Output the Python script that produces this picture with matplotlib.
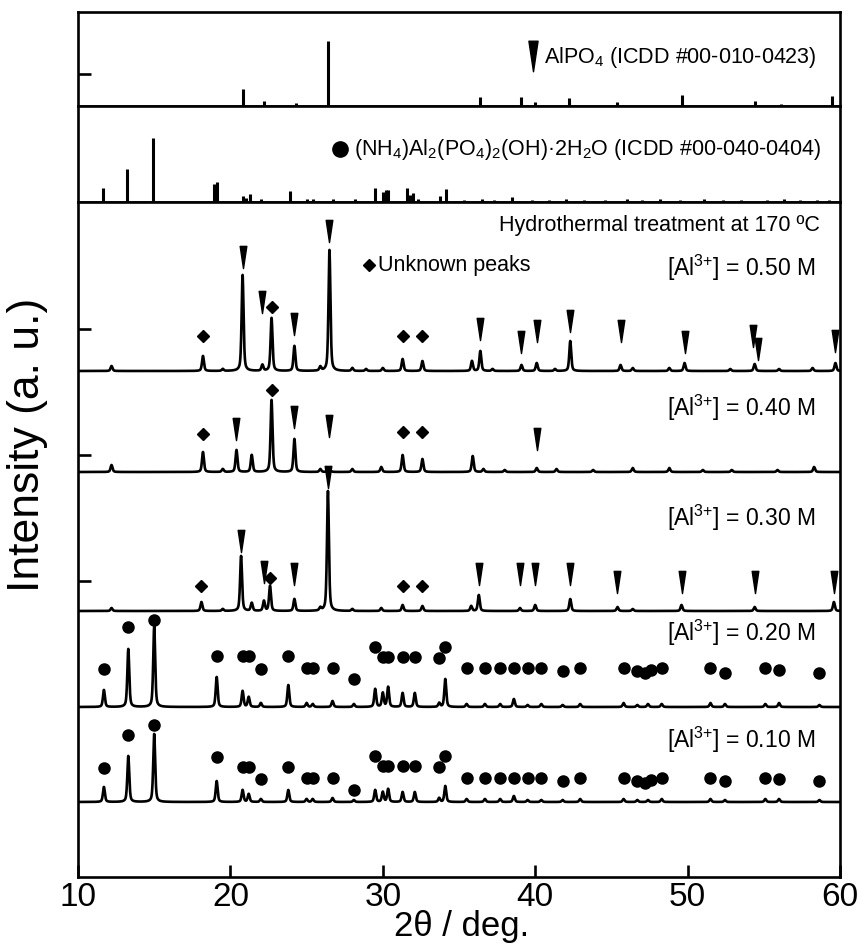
import numpy as np
import matplotlib.pyplot as plt
from matplotlib.path import Path

plt.rcParams['font.family'] = ['Liberation Sans', 'DejaVu Sans']
plt.rcParams['mathtext.fontset'] = 'custom'
plt.rcParams['mathtext.rm'] = 'Liberation Sans'
plt.rcParams['mathtext.default'] = 'regular'

# --- reference patterns (stick positions / relative intensity) ---
alpo4_pos = [20.8, 22.2, 24.3, 26.4, 36.4, 39.1, 40.0, 42.2, 45.4, 49.6, 54.4, 56.1, 59.5]
alpo4_int = [26, 8, 5, 100, 14, 14, 6, 12, 6, 17, 8, 3, 15]

nh4_pos = [11.64, 13.2, 14.9, 18.9, 19.1, 20.8, 21.0, 21.3, 22.0, 23.9, 25.0, 25.4,
           26.7, 28.2, 29.5, 30.0, 30.2, 30.35, 31.6, 31.8, 32.0, 32.3, 33.75, 34.15,
           35.3, 36.5, 37.3, 38.5, 39.8, 40.9, 42.0, 43.2, 44.6, 46.0, 47.0, 48.2,
           49.5, 51.1, 52.3, 53.5, 55.2, 56.3, 57.4, 58.5, 59.3]
nh4_int = [22, 52, 100, 28, 31, 9, 6, 12, 5, 17, 4, 4,
           4, 4, 22, 15, 18, 19, 22, 11, 14, 4, 9, 20,
           3, 4, 3, 8, 3, 3, 4, 3, 3, 4, 3, 4,
           3, 4, 3, 3, 3, 4, 3, 3, 3]

# --- measured patterns: peak positions and heights (a.u.) ---
conc_labels = ['0.50', '0.40', '0.30', '0.20', '0.10']
offsets = [506, 405, 266, 170, 75]

pk050_pos = [12.2, 18.2, 19.5, 20.8, 22.1, 22.7, 24.2, 25.9, 26.5, 28.0, 28.9, 30.0, 31.3,
             32.6, 35.85, 36.4, 37.2, 39.1, 40.1, 41.3, 42.3, 45.6, 46.4, 48.8, 49.8,
             52.8, 54.4, 56.0, 58.2, 59.7]
pk050_h = [5, 15, 2, 96, 6, 53, 25, 4, 121, 3, 2, 3, 12,
           10, 10, 20, 2, 6, 8, 2, 30, 6, 3, 3, 8,
           2, 7, 2, 3, 8]

pk040_pos = [12.2, 18.2, 19.5, 20.4, 21.4, 22.7, 24.2, 25.9, 26.5, 28.0, 29.9, 31.3, 32.6,
             35.9, 36.6, 38.0, 40.1, 41.4, 43.8, 46.4, 48.8, 51.0, 52.9, 55.9, 58.3]
pk040_h = [7, 20, 3, 22, 17, 72, 33, 3, 4, 3, 5, 17, 13,
           16, 3, 2, 4, 3, 2, 4, 4, 2, 2, 2, 5]

pk030_pos = [12.2, 18.1, 19.5, 20.7, 21.4, 22.2, 22.6, 24.2, 25.9, 26.4, 28.0, 29.9, 31.3,
             32.6, 35.8, 36.3, 39.0, 40.0, 42.3, 45.4, 46.4, 49.6, 54.4, 59.6]
pk030_h = [3, 9, 2, 55, 8, 10, 25, 12, 3, 120, 2, 3, 6,
           5, 5, 16, 3, 6, 12, 4, 2, 6, 4, 9]

pk020_pos = [11.7, 13.3, 15.0, 19.1, 20.8, 21.2, 22.0, 23.8, 25.0, 25.4, 26.7, 28.1, 29.5,
             30.0, 30.35, 31.3, 32.1, 33.7, 34.1, 35.5, 36.7, 37.7, 38.6, 39.5, 40.4,
             41.8, 42.95, 45.8, 46.7, 47.4, 48.3, 51.5, 52.45, 55.1, 56.0, 58.65]
pk020_h = [17, 58, 81, 30, 16, 10, 4, 22, 4, 3, 6, 3, 18,
           14, 20, 14, 14, 4, 28, 3, 3, 3, 8, 2, 3,
           2, 3, 4, 2, 3, 3, 4, 3, 3, 4, 2]

pk010_pos = pk020_pos
pk010_h = [15, 46, 68, 21, 12, 8, 3, 12, 3, 3, 4, 2, 12,
           10, 13, 10, 10, 4, 16, 3, 3, 3, 6, 2, 2,
           2, 3, 3, 2, 2, 3, 3, 2, 3, 3, 2]

# --- phase markers (position, height above each baseline) ---
tri050_x = [20.8, 22.1, 24.2, 26.5, 36.4, 39.1, 40.1, 42.3, 45.6, 49.8, 54.3, 54.6, 59.7]
tri050_y = [114, 69, 47, 140, 42, 29, 40, 50, 40, 29, 35, 22, 30]
dia050_x = [18.2, 22.7, 31.3, 32.6]
dia050_y = [35, 64, 35, 35]

tri040_x = [20.4, 24.2, 26.5, 40.1]
tri040_y = [43, 55, 46, 33]
dia040_x = [18.2, 22.7, 31.3, 32.6]
dia040_y = [38, 82, 40, 40]

tri030_x = [20.7, 22.2, 24.2, 26.4, 36.3, 39.0, 40.0, 42.3, 45.4, 49.6, 54.4, 59.6]
tri030_y = [70, 39, 37, 134, 37, 37, 37, 37, 29, 29, 29, 29]
dia030_x = [18.1, 22.6, 31.3, 32.6]
dia030_y = [25, 33, 25, 25]

dot_x = [11.7, 13.3, 15.0, 19.1, 20.8, 21.2, 22.0, 23.8, 25.0, 25.4, 26.7, 28.1, 29.5,
         30.0, 30.35, 31.3, 32.1, 33.7, 34.1, 35.5, 36.7, 37.7, 38.6, 39.5, 40.4,
         41.8, 42.95, 45.8, 46.7, 47.2, 47.6, 48.3, 51.5, 52.45, 55.1, 56.0, 58.65]
dot020_y = [38, 80, 87, 51, 51, 51, 38, 51, 39, 39, 39, 28, 60,
            50, 50, 50, 50, 49, 60, 39, 39, 39, 39, 39, 39,
            36, 39, 39, 36, 34, 37, 39, 39, 34, 39, 37, 34]
dot010_y = [34, 67, 77, 45, 35, 35, 23, 35, 24, 24, 24, 12, 46,
            36, 36, 36, 36, 35, 46, 24, 24, 24, 24, 24, 24,
            21, 24, 24, 21, 19, 22, 24, 24, 21, 24, 23, 21]


def pattern(tt, pos, h, hw=0.075):
    y = np.zeros_like(tt)
    for p, a in zip(pos, h):
        d = (tt - p) / hw
        y += a * (0.5 / (1 + d ** 2) + 0.5 * np.exp(-np.log(2) * d ** 2))
    return y


tt = np.arange(10, 60.001, 0.01)
peaks = [(pk050_pos, pk050_h), (pk040_pos, pk040_h), (pk030_pos, pk030_h),
         (pk020_pos, pk020_h), (pk010_pos, pk010_h)]

# narrow downward wedge for AlPO4 reflections
wedge = Path([(-0.15, 0.5), (0.15, 0.5), (0.0, -0.5), (-0.15, 0.5)],
             [Path.MOVETO, Path.LINETO, Path.LINETO, Path.CLOSEPOLY])

lw = 1.9
fs = 15.5
fig = plt.figure(figsize=(8.67, 9.45), dpi=100)
left, width = 78 / 867, 762 / 867
ax1 = fig.add_axes([left, 1 - 107 / 945, width, 94 / 945])
ax2 = fig.add_axes([left, 1 - 203 / 945, width, 96 / 945])
ax3 = fig.add_axes([left, 1 - 878 / 945, width, 675 / 945])

for ax in (ax1, ax2, ax3):
    ax.set_xlim(10, 60)
    for s in ax.spines.values():
        s.set_linewidth(lw)
    ax.tick_params(direction='in', length=9, width=lw, labelleft=False)

for ax in (ax1, ax2):
    ax.tick_params(bottom=False, labelbottom=False)

# AlPO4 reference
ax1.vlines(alpo4_pos, 0, alpo4_int, color='k', lw=2.2)
ax1.set_ylim(0, 145)
ax1.set_yticks([50])
ax1.plot(39.86, 77, marker=wedge, ms=22, color='k', ls='none')
ax1.text(40.6, 77, 'AlPO$_4$ (ICDD #00-010-0423)', fontsize=fs, va='center')

# (NH4)Al2(PO4)2(OH)·2H2O reference
ax2.vlines(nh4_pos, 0, nh4_int, color='k', lw=2.2)
ax2.set_ylim(0, 150)
ax2.set_yticks([])
ax2.plot(27.2, 83, marker='o', ms=11, color='k', ls='none')
ax2.text(28.1, 83, '(NH$_4$)Al$_2$(PO$_4$)$_2$(OH)·2H$_2$O (ICDD #00-040-0404)',
         fontsize=fs, va='center')

# measured patterns
for (pos, h), off in zip(peaks, offsets):
    ax3.plot(tt, off + pattern(tt, pos, h), color='k', lw=lw)

mk = dict(color='k', ls='none')
for tx, ty, dx, dy, off in [(tri050_x, tri050_y, dia050_x, dia050_y, offsets[0]),
                            (tri040_x, tri040_y, dia040_x, dia040_y, offsets[1]),
                            (tri030_x, tri030_y, dia030_x, dia030_y, offsets[2])]:
    ax3.plot(tx, np.array(ty) + off, marker=wedge, ms=16, **mk)
    ax3.plot(dx, np.array(dy) + off, marker='D', ms=6.5, **mk)
ax3.plot(dot_x, np.array(dot020_y) + offsets[3], marker='o', ms=8, **mk)
ax3.plot(dot_x, np.array(dot010_y) + offsets[4], marker='o', ms=8, **mk)

ax3.set_ylim(0, 675)
ax3.set_yticks([296, 422, 548])
ax3.set_xticks([10, 20, 30, 40, 50, 60])
ax3.tick_params(axis='x', labelsize=24, pad=3)

ax3.text(58.7, 653, 'Hydrothermal treatment at 170 ºC', fontsize=fs, ha='right', va='center')
ax3.plot(29.1, 612, marker='D', ms=6.5, **mk)
ax3.text(29.7, 612, 'Unknown peaks', fontsize=fs, va='center')
label_y = [610, 470, 360, 245, 138]
for c, y in zip(conc_labels, label_y):
    ax3.text(58.4, y, '[Al$^{3{+}}$] = %s M' % c, fontsize=16.5, ha='right', va='center')

fig.text(462 / 867, 9 / 945, '2θ / deg.', fontsize=25, ha='center', va='baseline')
fig.text(28 / 867, 1 - 445 / 945, 'Intensity (a. u.)', fontsize=32,
         rotation=90, ha='center', va='center')

fig.savefig('out.png', dpi=100)
